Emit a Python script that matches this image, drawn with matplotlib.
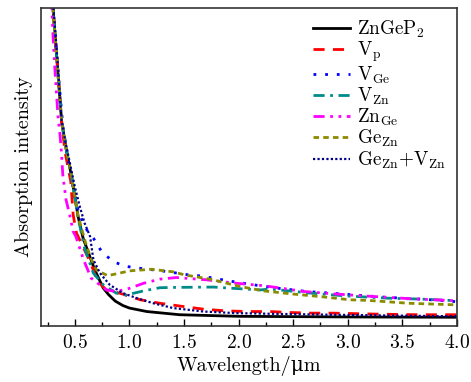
import matplotlib
matplotlib.use("Agg")
import matplotlib.pyplot as plt
from matplotlib.ticker import MultipleLocator

plt.rcParams['font.family'] = ['cmr10', 'DejaVu Serif']
plt.rcParams['mathtext.fontset'] = 'cm'
plt.rcParams['axes.formatter.use_mathtext'] = True

# values (arbitrary intensity units, axis top = 10)
wl_black = [0.28, 0.30, 0.34, 0.38, 0.424, 0.47, 0.53, 0.576, 0.63, 0.683, 0.76, 0.81, 0.87, 0.94, 1.0, 1.16, 1.46, 2.0, 3.0, 4.0]
ab_black = [11.5, 10.0, 8.2, 6.4, 5.5, 4.7, 3.44, 2.76, 2.25, 1.76, 1.19, 0.98, 0.78, 0.64, 0.56, 0.45, 0.35, 0.30, 0.28, 0.27]

wl_vp = [0.28, 0.30, 0.34, 0.38, 0.41, 0.463, 0.485, 0.515, 0.58, 0.64, 0.71, 0.79, 0.91, 1.1, 1.28, 1.49, 1.69, 1.89, 2.09, 2.29, 2.47, 2.67, 2.87, 3.25, 3.63, 4.0]
ab_vp = [11.5, 10.0, 8.2, 6.4, 5.48, 4.54, 3.49, 2.92, 2.45, 2.02, 1.39, 1.13, 1.03, 0.82, 0.71, 0.61, 0.52, 0.47, 0.45, 0.45, 0.42, 0.40, 0.40, 0.37, 0.35, 0.35]

wl_vge = [0.28, 0.30, 0.34, 0.39, 0.45, 0.50, 0.53, 0.576, 0.61, 0.67, 0.745, 0.85, 0.97, 1.1, 1.34, 1.55, 1.66, 1.9, 2.14, 2.37, 2.63, 2.84, 3.34, 3.68, 4.0]
ab_vge = [11.5, 10.0, 8.3, 6.3, 5.0, 4.07, 3.65, 3.23, 3.02, 2.76, 2.34, 2.02, 1.87, 1.81, 1.71, 1.60, 1.57, 1.42, 1.29, 1.18, 1.08, 1.03, 0.90, 0.84, 0.76]

wl_vzn = [0.28, 0.30, 0.34, 0.38, 0.424, 0.47, 0.53, 0.59, 0.67, 0.76, 0.88, 0.97, 1.13, 1.28, 1.43, 1.77, 1.95, 2.2, 2.29, 2.66, 2.99, 3.37, 3.68, 4.0]
ab_vzn = [11.5, 10.0, 8.2, 6.4, 5.5, 4.7, 3.4, 2.44, 1.66, 1.29, 1.03, 0.97, 1.10, 1.20, 1.21, 1.22, 1.18, 1.13, 1.16, 1.03, 0.94, 0.87, 0.84, 0.79]

wl_znge = [0.28, 0.30, 0.317, 0.347, 0.362, 0.378, 0.39, 0.42, 0.45, 0.485, 0.51, 0.58, 0.65, 0.79, 0.88, 1.0, 1.13, 1.28, 1.43, 1.7, 1.98, 2.24, 2.6, 2.9, 3.16, 3.59, 4.0]
ab_znge = [10.8, 9.15, 8.1, 6.53, 6.1, 5.43, 4.75, 3.96, 3.54, 2.97, 2.81, 2.08, 1.50, 1.13, 1.08, 1.18, 1.34, 1.47, 1.52, 1.45, 1.34, 1.26, 1.08, 1.00, 0.94, 0.85, 0.79]

wl_gezn = [0.28, 0.30, 0.34, 0.38, 0.424, 0.47, 0.53, 0.60, 0.65, 0.70, 0.80, 0.90, 1.0, 1.2, 1.4, 1.51, 1.74, 2.01, 2.23, 2.5, 2.75, 3.02, 3.19, 3.56, 4.0]
ab_gezn = [11.5, 10.0, 8.2, 6.4, 5.5, 4.7, 3.45, 2.6, 2.1, 1.75, 1.58, 1.65, 1.73, 1.78, 1.70, 1.60, 1.47, 1.24, 1.10, 1.00, 0.92, 0.82, 0.80, 0.71, 0.66]

wl_gevzn = [0.28, 0.30, 0.34, 0.378, 0.41, 0.455, 0.50, 0.546, 0.59, 0.64, 0.67, 0.73, 0.82, 0.94, 1.07, 1.22, 1.40, 1.68, 1.98, 2.29, 2.84, 3.5, 4.0]
ab_gevzn = [11.5, 10.2, 8.4, 6.48, 5.85, 5.12, 4.38, 3.75, 3.23, 2.81, 2.08, 1.66, 1.29, 1.03, 0.87, 0.71, 0.56, 0.45, 0.40, 0.38, 0.35, 0.32, 0.30]

fig = plt.figure(figsize=(4.71, 3.82), dpi=100)
ax = fig.add_axes([0.087, 0.147, 0.883, 0.832])

lw = 2.0
ax.plot(wl_black, ab_black, color='black', lw=lw, label=r'ZnGeP$_2$')
ax.plot(wl_vp, ab_vp, color='#ff0000', lw=lw, ls=(0, (4, 3)), label=r'V$_{\rm p}$')
ax.plot(wl_vge, ab_vge, color='#0000ff', lw=lw, ls=(0, (1, 3.2)), label=r'V$_{\rm Ge}$')
ax.plot(wl_vzn, ab_vzn, color='#008b8b', lw=lw, ls=(0, (4, 2, 1, 2)), label=r'V$_{\rm Zn}$')
ax.plot(wl_znge, ab_znge, color='#ff00ff', lw=lw, ls=(0, (4, 2, 1, 2, 1, 2)), label=r'Zn$_{\rm Ge}$')
ax.plot(wl_gezn, ab_gezn, color='#8b8b00', lw=lw, ls=(0, (2, 1.5)), label=r'Ge$_{\rm Zn}$')
ax.plot(wl_gevzn, ab_gevzn, color='#00008b', lw=1.6, ls=(0, (1, 1)), label=r'Ge$_{\rm Zn}$+V$_{\rm Zn}$')

ax.set_xlim(0.19, 4.0)
ax.set_ylim(0, 10)
ax.set_yticks([])
ax.xaxis.set_major_locator(MultipleLocator(0.5))
ax.xaxis.set_minor_locator(MultipleLocator(0.25))
ax.tick_params(axis='x', which='major', direction='in', length=5, width=1, labelsize=14, pad=6)
ax.tick_params(axis='x', which='minor', direction='in', length=3, width=1)
for s in ax.spines.values():
    s.set_linewidth(1.2)
    s.set_color('#333333')

ax.set_xlabel('Wavelength/μm', fontsize=14.5, labelpad=3)
ax.set_ylabel('Absorption intensity', fontsize=14.5, labelpad=6)

ax.legend(loc='upper right', frameon=False, fontsize=13.8, handlelength=1.9,
          labelspacing=0.0, borderaxespad=0.15, handletextpad=0.4)

fig.savefig('out.png', dpi=100)
